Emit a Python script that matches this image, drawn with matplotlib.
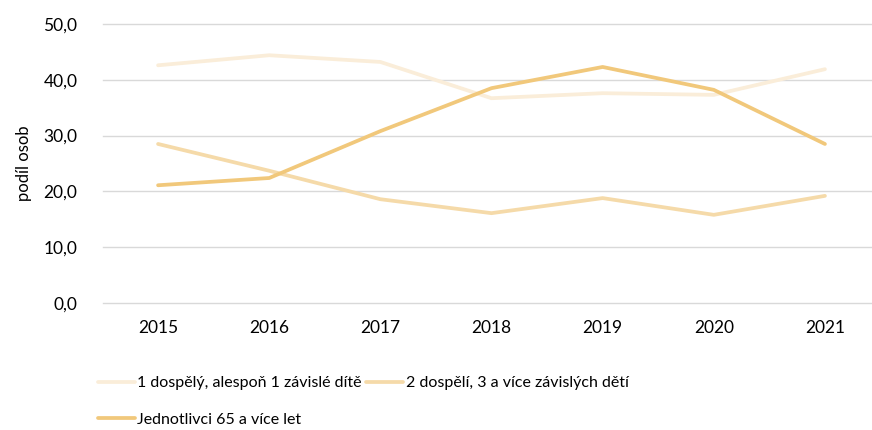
import matplotlib
matplotlib.use("Agg")
import matplotlib.pyplot as plt

plt.rcParams["font.family"] = ["Lato", "DejaVu Sans"]

years = ["2015", "2016", "2017", "2018", "2019", "2020", "2021"]
jeden_dospely = [42.6, 44.4, 43.2, 36.7, 37.6, 37.3, 41.9]
dva_dospeli = [28.5, 23.7, 18.6, 16.1, 18.8, 15.8, 19.2]
jednotlivci_65 = [21.1, 22.4, 30.8, 38.5, 42.3, 38.2, 28.5]
y_ticks = [0, 10, 20, 30, 40, 50]

labels = ["1 dospělý, alespoň 1 závislé dítě",
          "2 dospělí, 3 a více závislých dětí",
          "Jednotlivci 65 a více let"]
colors = ["#FAEDD9", "#F5DAA9", "#F1C87B"]

W, H = 872, 430
fig = plt.figure(figsize=(W / 100, H / 100), dpi=100)
ax = fig.add_axes([102.5 / W, 1 - 303 / H, 778 / W, (303 - 24) / H])

x = range(len(years))
lines = []
for vals, c, lab in zip([jeden_dospely, dva_dospeli, jednotlivci_65], colors, labels):
    ln, = ax.plot(x, vals, color=c, lw=2.7, solid_capstyle="round",
                  solid_joinstyle="round", label=lab)
    lines.append(ln)

ax.set_xlim(-0.5, len(years) - 0.5)
ax.set_ylim(0, 50)
ax.set_yticks(y_ticks)
ax.set_yticklabels([f"{v:.1f}".replace(".", ",") for v in y_ticks])
ax.set_xticks(list(x))
ax.set_xticklabels(years)
ax.grid(axis="y", color="#D9D9D9", lw=1)
for gl in ax.get_ygridlines():
    gl.set_clip_on(False)
ax.set_axisbelow(True)
for s in ax.spines.values():
    s.set_visible(False)
ax.tick_params(length=0, labelsize=12.5, colors="#000000", pad=18)
ax.tick_params(axis="x", pad=12)
ax.set_ylabel("podíl osob", fontsize=12, labelpad=8)

# row-wise order: first row two entries, second row one
fig.legend(handles=[lines[0], lines[2], lines[1]], loc="upper left",
           bbox_to_anchor=(98 / W, 1 - 376 / H),
           ncol=2, frameon=False, fontsize=11.5, handlelength=2.3,
           handletextpad=0.15, columnspacing=0.3, labelspacing=1.4,
           borderaxespad=0, borderpad=0)

fig.savefig("out.png", dpi=100)
